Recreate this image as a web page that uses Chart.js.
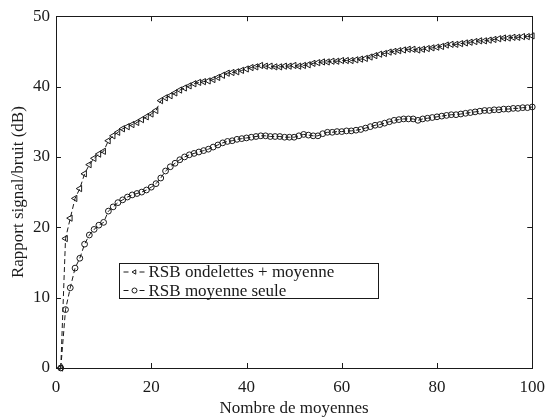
<!DOCTYPE html>
<html>
<head>
<meta charset="utf-8">
<script src="https://cdn.jsdelivr.net/npm/chart.js@4"></script>
<style>
  html, body { margin: 0; padding: 0; background: #fff; }
  #wrap { width: 554px; height: 417px; }
</style>
</head>
<body>
<div id="wrap"><canvas id="rsbChart"></canvas></div>
<script>
// Nombre de moyennes (x)
const nbMoyennes = [
  1, 2, 3, 4, 5, 6, 7, 8, 9, 10, 11, 12, 13, 14, 15, 16, 17, 18, 19, 20,
  21, 22, 23, 24, 25, 26, 27, 28, 29, 30, 31, 32, 33, 34, 35, 36, 37, 38, 39, 40,
  41, 42, 43, 44, 45, 46, 47, 48, 49, 50, 51, 52, 53, 54, 55, 56, 57, 58, 59, 60,
  61, 62, 63, 64, 65, 66, 67, 68, 69, 70, 71, 72, 73, 74, 75, 76, 77, 78, 79, 80,
  81, 82, 83, 84, 85, 86, 87, 88, 89, 90, 91, 92, 93, 94, 95, 96, 97, 98, 99, 100,
];

// RSB ondelettes + moyenne (dB)
const rsbOndelettes = [
  0, 18.4, 21.3, 24.1, 25.5, 27.6, 28.9, 29.8, 30.4, 30.8,
  32.3, 33.0, 33.5, 34.0, 34.3, 34.6, 34.9, 35.3, 35.7, 36.1,
  36.6, 38.0, 38.4, 38.7, 39.1, 39.5, 39.8, 40.1, 40.4, 40.6,
  40.7, 40.8, 41.0, 41.3, 41.6, 41.9, 42.0, 42.1, 42.3, 42.5,
  42.7, 42.8, 43.0, 42.9, 42.9, 42.8, 42.8, 42.9, 42.9, 43.0,
  42.9, 43.0, 43.1, 43.3, 43.4, 43.5, 43.5, 43.6, 43.6, 43.7,
  43.7, 43.7, 43.8, 43.9, 44.0, 44.2, 44.4, 44.6, 44.7, 44.9,
  45.0, 45.1, 45.2, 45.3, 45.3, 45.2, 45.3, 45.4, 45.5, 45.6,
  45.7, 45.9, 46.0, 46.0, 46.1, 46.2, 46.3, 46.4, 46.5, 46.5,
  46.6, 46.7, 46.8, 46.9, 46.9, 47.0, 47.0, 47.1, 47.1, 47.2,
];

// RSB moyenne seule (dB)
const rsbMoyenne = [
  0, 8.3, 11.4, 14.2, 15.6, 17.6, 18.9, 19.7, 20.3, 20.7,
  22.3, 22.9, 23.5, 23.9, 24.3, 24.6, 24.8, 25.0, 25.3, 25.7,
  26.2, 27.0, 28.0, 28.6, 29.1, 29.6, 30.0, 30.3, 30.5, 30.7,
  30.9, 31.1, 31.4, 31.7, 32.0, 32.2, 32.3, 32.5, 32.6, 32.7,
  32.8, 32.9, 33.0, 33.0, 32.9, 32.9, 32.9, 32.8, 32.8, 32.8,
  33.0, 33.2, 33.1, 33.0, 33.0, 33.3, 33.5, 33.5, 33.6, 33.6,
  33.7, 33.7, 33.8, 33.9, 34.1, 34.3, 34.5, 34.6, 34.8, 35.0,
  35.2, 35.3, 35.4, 35.4, 35.4, 35.2, 35.4, 35.5, 35.6, 35.7,
  35.8, 35.9, 36.0, 36.0, 36.1, 36.2, 36.3, 36.4, 36.5, 36.6,
  36.6, 36.7, 36.7, 36.8, 36.8, 36.9, 36.9, 37.0, 37.0, 37.1,
];

const xTicks = [0, 20, 40, 60, 80, 100];
const yTicks = [0, 10, 20, 30, 40, 50];
const seriesNames = ["RSB ondelettes + moyenne", "RSB moyenne seule"];

const serif = "'Liberation Serif', 'Times New Roman', serif";
const fontSize = 17;
const ink = "#1a1a1a";

function toPoints(ys) {
  return nbMoyennes.map((x, i) => ({ x: x, y: ys[i] }));
}

// Matlab-like box with inward ticks on all four sides
const boxAxes = {
  id: "boxAxes",
  afterDatasetsDraw(chart) {
    const { ctx, chartArea: a, scales } = chart;
    const tl = 5;
    ctx.save();
    ctx.strokeStyle = ink;
    ctx.lineWidth = 1;
    ctx.beginPath();
    xTicks.forEach((t) => {
      const px = Math.round(scales.x.getPixelForValue(t)) + 0.5;
      ctx.moveTo(px, a.bottom);
      ctx.lineTo(px, a.bottom - tl);
      ctx.moveTo(px, a.top);
      ctx.lineTo(px, a.top + tl);
    });
    yTicks.forEach((t) => {
      const py = Math.round(scales.y.getPixelForValue(t)) + 0.5;
      ctx.moveTo(a.left, py);
      ctx.lineTo(a.left + tl, py);
      ctx.moveTo(a.right, py);
      ctx.lineTo(a.right - tl, py);
    });
    ctx.stroke();
    ctx.strokeRect(
      Math.round(a.left) + 0.5,
      Math.round(a.top) + 0.5,
      Math.round(a.right - a.left),
      Math.round(a.bottom - a.top)
    );
    ctx.restore();
  },
};

// legend box drawn inside the plot
const boxLegend = {
  id: "boxLegend",
  afterDraw(chart) {
    const ctx = chart.ctx;
    const x0 = 119.5, y0 = 263.5, w = 259, h = 35, rowH = 18.5;
    ctx.save();
    ctx.font = fontSize + "px " + serif;
    ctx.fillStyle = "#fff";
    ctx.fillRect(x0, y0, w, h);
    ctx.strokeStyle = ink;
    ctx.lineWidth = 1;
    ctx.strokeRect(x0, y0, w, h);
    chart.data.datasets.forEach((ds, i) => {
      const cy = y0 + 8.5 + i * rowH;
      ctx.setLineDash([5, 3]);
      ctx.strokeStyle = ink;
      ctx.beginPath();
      ctx.moveTo(x0 + 4, cy);
      ctx.lineTo(x0 + 26, cy);
      ctx.stroke();
      ctx.setLineDash([]);
      ctx.fillStyle = "#fff";
      ctx.fillRect(x0 + 11, cy - 3, 8, 6);
      Chart.helpers.drawPoint(ctx, {
        pointStyle: ds.pointStyle,
        rotation: ds.pointRotation,
        radius: 2.5,
        borderWidth: 1,
      }, x0 + 15, cy);
      ctx.fillStyle = ink;
      ctx.textBaseline = "middle";
      ctx.fillText(seriesNames[i], x0 + 29, cy + 1);
    });
    ctx.restore();
  },
};

new Chart(document.getElementById("rsbChart"), {
  type: "line",
  data: {
    datasets: [
      {
        label: seriesNames[0],
        data: toPoints(rsbOndelettes),
        borderColor: ink,
        borderWidth: 1,
        borderDash: [5, 3],
        pointStyle: "triangle",
        pointRotation: -90,
        pointRadius: 3.6,
        pointBorderColor: ink,
        pointBackgroundColor: "rgba(0,0,0,0)",
        pointBorderWidth: 1,
        clip: false,
      },
      {
        label: seriesNames[1],
        data: toPoints(rsbMoyenne),
        borderColor: ink,
        borderWidth: 1,
        borderDash: [5, 3],
        pointStyle: "circle",
        pointRadius: 2.9,
        pointBorderColor: ink,
        pointBackgroundColor: "rgba(0,0,0,0)",
        pointBorderWidth: 1,
        clip: false,
      },
    ],
  },
  options: {
    responsive: true,
    maintainAspectRatio: false,
    animation: false,
    layout: { padding: { top: 15, right: 13, left: 0, bottom: 0 } },
    plugins: {
      legend: { display: false },
      tooltip: { enabled: false },
    },
    scales: {
      x: {
        type: "linear",
        min: 0,
        max: 100,
        afterFit: (scale) => { scale.height = 49; },
        afterBuildTicks: (scale) => { scale.ticks = xTicks.map((v) => ({ value: v })); },
        grid: { display: false, drawTicks: false },
        border: { display: false },
        ticks: {
          color: ink,
          padding: 9,
          maxRotation: 0,
          font: { family: serif, size: fontSize },
        },
        title: {
          display: true,
          text: "Nombre de moyennes",
          color: ink,
          padding: { top: 0, bottom: -2 },
          font: { family: serif, size: fontSize },
        },
      },
      y: {
        min: 0,
        max: 50,
        afterFit: (scale) => { scale.width = 56; },
        afterBuildTicks: (scale) => { scale.ticks = yTicks.map((v) => ({ value: v })); },
        grid: { display: false, drawTicks: false },
        border: { display: false },
        ticks: {
          color: ink,
          padding: 6,
          font: { family: serif, size: fontSize },
        },
        title: {
          display: true,
          text: "Rapport signal/bruit (dB)",
          color: ink,
          padding: { top: 8, bottom: 0 },
          font: { family: serif, size: fontSize },
        },
      },
    },
  },
  plugins: [boxAxes, boxLegend],
});
</script>
</body>
</html>
